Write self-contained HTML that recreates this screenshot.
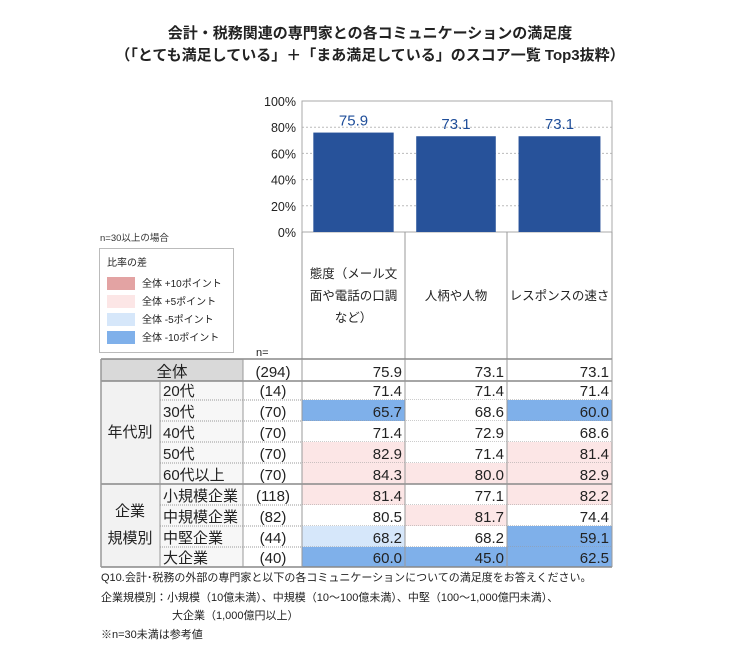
<!DOCTYPE html>
<html><head><meta charset="utf-8"><style>
body{margin:0;background:#fff;width:740px;height:666px;overflow:hidden;font-family:"Liberation Sans","Noto Sans CJK JP",sans-serif;}
svg text{font-family:"Liberation Sans","Noto Sans CJK JP",sans-serif;}
</style></head><body>
<svg id="s" width="740" height="666" viewBox="0 0 740 666" xmlns="http://www.w3.org/2000/svg">
<text x="370" y="38" text-anchor="middle" font-size="15" font-weight="bold" fill="#222">会計・税務関連の専門家との各コミュニケーションの満足度</text>
<text x="370" y="60" text-anchor="middle" font-size="15" font-weight="bold" fill="#222">（「とても満足している」＋「まあ満足している」のスコア一覧 Top3抜粋）</text>
<g id="legend">
<text x="100" y="241" font-size="9.5" fill="#333">n=30以上の場合</text>
<rect x="99.5" y="248.5" width="134" height="104" fill="#fff" stroke="#bbb"/>
<text x="107" y="266" font-size="10" fill="#222">比率の差</text>
</g>
</svg>
<script>
const categories=["態度（メール文面や電話の口調など）","人柄や人物","レスポンスの速さ"];
const catLines=[["態度（メール文","面や電話の口調","など）"],["人柄や人物"],["レスポンスの速さ"]];
const totalValues=[75.9,73.1,73.1];
const yTicks=[0,20,40,60,80,100];
const rowLabels=["20代","30代","40代","50代","60代以上","小規模企業","中規模企業","中堅企業","大企業"];
const rowN=["(14)","(70)","(70)","(70)","(70)","(118)","(82)","(44)","(40)"];
const col1=[71.4,65.7,71.4,82.9,84.3,81.4,80.5,68.2,60.0];
const col2=[71.4,68.6,72.9,71.4,80.0,77.1,81.7,68.2,45.0];
const col3=[71.4,60.0,68.6,81.4,82.9,82.2,74.4,59.1,62.5];
const totalN="(294)";
const legendLabels=["全体 +10ポイント","全体 +5ポイント","全体 -5ポイント","全体 -10ポイント"];
const legendColors=["#e3a3a3","#fce6e6","#d6e7fa","#7fb0ea"];

const S=document.getElementById('s');const NS="http://www.w3.org/2000/svg";
function mk(t,a,txt){const e=document.createElementNS(NS,t);for(const k in a)e.setAttribute(k,a[k]);if(txt!==undefined)e.textContent=txt;S.appendChild(e);return e;}
const X0=302,X1=612,Y0=232,Y1=101;
const colX=[302,405,507,612];
const y=v=>Y0-(v/100)*(Y0-Y1);
yTicks.forEach(t=>{
 if(t>0&&t<100){const g=mk('line',{x1:X0,x2:X1,y1:y(t),y2:y(t),stroke:'#bbb','stroke-dasharray':'2,2'});
 
 }
 const l=mk('text',{x:296,y:y(t)+5,'text-anchor':'end','font-size':12.5,fill:'#222'},t+'%');
 
 
});
const fr=mk('rect',{x:X0,y:Y1,width:X1-X0,height:Y0-Y1,fill:'none',stroke:'#aaa'});


totalValues.forEach((v,i)=>{
 const w=colX[i+1]-colX[i];const bx=colX[i]+w*0.11;const bw=w*0.78;
 const b=mk('rect',{x:bx,y:y(v),width:bw,height:Y0-y(v),fill:'#27529a'});
 
 
 const t=mk('text',{x:bx+bw/2,y:y(v)-7,'text-anchor':'middle','font-size':15,fill:'#1f4e9a'},v.toFixed(1));
 
 
});
legendLabels.forEach((l,i)=>{
 const yy=277+i*18;
 const r=mk('rect',{x:107,y:yy,width:28,height:13,fill:legendColors[i]});
 
 
 const t=mk('text',{x:142,y:yy+10,'font-size':10,fill:'#222'},l);
 
 
});
for(let i=0;i<4;i++){const l=mk('line',{x1:colX[i],x2:colX[i],y1:Y0,y2:359,stroke:'#999'});
 
 }
catLines.forEach((ls,i)=>{
 const cx=(colX[i]+colX[i+1])/2;const start=300-(ls.length-1)*11;
 ls.forEach((s,j)=>{const t=mk('text',{x:cx,y:start+j*22,'text-anchor':'middle','font-size':12.5,fill:'#222'},s);
 
 });
});
const nl=mk('text',{x:256,y:356,'font-size':11,fill:'#222'},'n=');


const rowY=[359,381,400,421,442,463,484,505,526,547,567];
const cols=[col1,col2,col3];
function cellColor(v,t){const d=v-t;if(d>=10)return legendColors[0];if(d>=5)return legendColors[1];if(d<=-10)return legendColors[3];if(d<=-5)return legendColors[2];return '#fff';}
const tb=mk('rect',{x:101,y:359,width:142,height:22,fill:'#d9d9d9'});


const g1=mk('rect',{x:101,y:381,width:59,height:186,fill:'#f2f2f2'});


const lb=mk('rect',{x:160,y:381,width:83,height:186,fill:'#f7f7f7'});


const nb=mk('rect',{x:243,y:359,width:59,height:208,fill:'#fff'});


let t=mk('text',{x:172,y:377,'text-anchor':'middle','font-size':15.5,fill:'#222'},'全体');


t=mk('text',{x:273,y:377,'text-anchor':'middle','font-size':15,fill:'#222'},totalN);


totalValues.forEach((v,i)=>{const c=mk('text',{x:colX[i+1]-3,y:377,'text-anchor':'end','font-size':15,fill:'#222'},v.toFixed(1));
 
 });
rowLabels.forEach((lab,r)=>{
 const y0=rowY[r+1],y1=rowY[r+2];
 cols.forEach((arr,i)=>{
  const bg=mk('rect',{x:colX[i],y:y0,width:colX[i+1]-colX[i],height:y1-y0,fill:cellColor(arr[r],totalValues[i])});
  
  
  const c=mk('text',{x:colX[i+1]-3,y:y1-4,'text-anchor':'end','font-size':15,fill:'#222'},arr[r].toFixed(1));
  
  
 });
 const a=mk('text',{x:163,y:y1-4,'font-size':15,fill:'#222'},lab);
 
 
 const n=mk('text',{x:273,y:y1-4,'text-anchor':'middle','font-size':15,fill:'#222'},rowN[r]);
 
 
 if(r!==4&&r!==8){const d=mk('line',{x1:160,x2:612,y1:y1,y2:y1,stroke:'#999','stroke-dasharray':'1,1'});
  
  }
});
[['年代別',437],['企業',516],['規模別',543]].forEach((g,i)=>{const e=mk('text',{x:130,y:g[1],'text-anchor':'middle','font-size':15,fill:'#222'},g[0]);
 
 });
[[101,359,612,359],[101,381,612,381],[101,484,612,484],[101,567,612,567]].forEach((p,i)=>{const l=mk('line',{x1:p[0],y1:p[1],x2:p[2],y2:p[3],stroke:'#888','stroke-width':1.5});
 
 });
[[101,359],[160,381],[243,359],[302,359],[405,359],[507,359],[612,359]].forEach((p,i)=>{const l=mk('line',{x1:p[0],y1:p[1],x2:p[0],y2:567,stroke:'#999','stroke-width':i===0?1.5:1});
 
 });
[['Q10.会計･税務の外部の専門家と以下の各コミュニケーションについての満足度をお答えください。',101,581],
 ['企業規模別：小規模（10億未満）、中規模（10～100億未満）、中堅（100～1,000億円未満）、',101,601],
 ['大企業（1,000億円以上）',172,619],
 ['※n=30未満は参考値',101,638]].forEach((f,i)=>{const e=mk('text',{x:f[1],y:f[2],'font-size':11,fill:'#222'},f[0]);
 
 });
</script>
</body></html>
